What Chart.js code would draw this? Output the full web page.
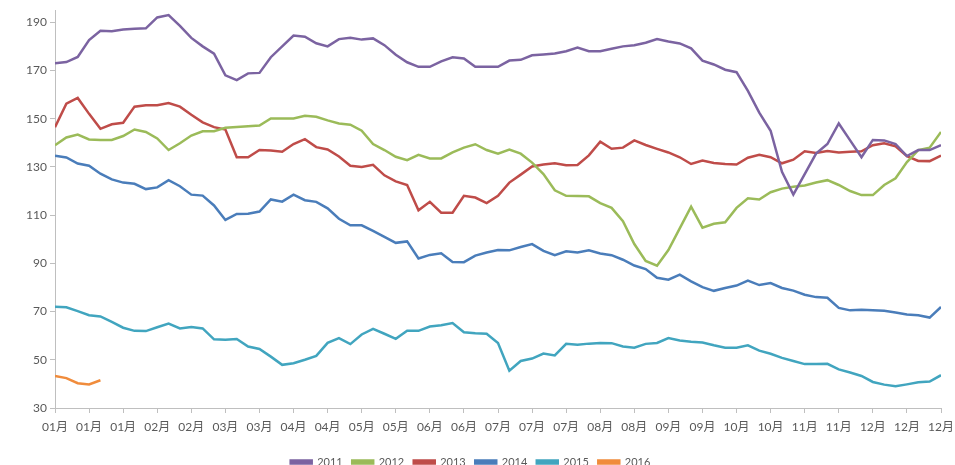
<!DOCTYPE html>
<html>
<head>
<meta charset="utf-8">
<script src="https://cdn.jsdelivr.net/npm/chart.js@4/dist/chart.umd.min.js"></script>
<style>
  body { margin: 0; background: #fff; overflow: hidden; }
  #wrap { width: 955px; height: 465px; }
</style>
</head>
<body>
<div id="wrap"><canvas id="prices"></canvas></div>
<script>
// x-axis labels, one every 3 points
const tickLabels = ['01月', '01月', '01月', '02月', '02月', '03月', '03月', '04月', '04月', '05月', '05月', '06月', '06月',
    '07月', '07月', '07月', '08月', '08月', '09月', '09月', '10月', '10月', '11月', '11月', '12月', '12月', '12月'];
const yTicks = [30, 50, 70, 90, 110, 130, 150, 170, 190];
const years = ['2011', '2012', '2013', '2014', '2015', '2016'];
const lineColors = ['#7B63A1', '#9BBB59', '#BF4C49', '#4A7DBA', '#41A5BF', '#F08C3C'];

const s2011 = [173, 173.5, 175.6, 182.6, 186.5, 186.3, 187, 187.3, 187.5, 192, 193, 188.5, 183.5, 180, 177, 168, 166, 168.8, 169, 175.5,
    180, 184.5, 184, 181.3, 180, 183, 183.6, 182.8, 183.3, 180.5, 176.5, 173.4, 171.5, 171.5, 173.8, 175.5, 175, 171.5, 171.5, 171.5,
    174.1, 174.4, 176.3, 176.6, 177, 178, 179.5, 178, 178, 179, 180, 180.5, 181.5, 183, 182, 181.2, 179.2, 174.1, 172.5, 170.3,
    169.3, 161.5, 152.5, 145, 128, 118.5, 127, 135.5, 139.5, 148, 141, 134, 141.2, 141, 139.5, 134.5, 137, 137, 139];
const s2012 = [139, 142.2, 143.4, 141.4, 141.2, 141.2, 142.8, 145.5, 144.5, 141.8, 137, 139.8, 143, 144.8, 144.8, 146.2, 146.6, 146.9, 147.2, 150.1,
    150.1, 150.1, 151.2, 150.8, 149.3, 148, 147.5, 145, 139.5, 137, 134.2, 132.8, 135, 133.5, 133.5, 136, 138, 139.4, 137, 135.5,
    137.2, 135.5, 131.8, 127, 120.3, 118, 117.9, 117.8, 115, 113, 107.5, 98, 91, 89, 95.5, 104.5, 113.5, 104.8, 106.4, 107,
    113, 117, 116.5, 119.5, 121, 121.8, 122.3, 123.5, 124.5, 122.5, 120, 118.3, 118.3, 122.5, 125.3, 132, 137, 138, 144.5];
const s2013 = [146.5, 156.2, 158.6, 152, 145.8, 147.7, 148.3, 155, 155.6, 155.6, 156.5, 155, 151.6, 148.5, 146.5, 145.5, 134, 134, 137, 136.8,
    136.3, 139.5, 141.5, 138.2, 137.2, 134.3, 130.5, 130, 130.9, 126.5, 124, 122.5, 112, 115.5, 111, 111, 118, 117.3, 115, 118,
    123.5, 126.8, 130.2, 131, 131.5, 130.7, 130.8, 134.8, 140.5, 137.5, 138, 141, 139.1, 137.5, 136, 134, 131.2, 132.6, 131.6, 131.2,
    131, 133.8, 135, 134, 131.5, 133, 136.5, 135.8, 136.6, 136, 136.3, 136.5, 139, 139.8, 138.5, 134.5, 132.5, 132.4, 134.7];
const s2014 = [134.6, 133.9, 131.4, 130.5, 127.2, 124.8, 123.5, 123, 120.8, 121.5, 124.5, 122, 118.5, 118.1, 114, 108, 110.5, 110.6, 111.5, 116.5,
    115.6, 118.5, 116.2, 115.5, 112.8, 108.5, 105.8, 105.8, 103.5, 101, 98.5, 99.1, 92, 93.5, 94.2, 90.6, 90.5, 93.2, 94.5, 95.5,
    95.4, 96.8, 98, 95.2, 93.4, 95, 94.5, 95.4, 94.1, 93.4, 91.5, 89.1, 87.6, 84, 83.2, 85.3, 82.5, 80.1, 78.6, 79.8,
    80.8, 82.8, 81, 81.8, 79.8, 78.7, 77, 76, 75.7, 71.5, 70.5, 70.8, 70.5, 70.3, 69.6, 68.8, 68.5, 67.5, 71.9];
const s2015 = [72, 71.8, 70.2, 68.5, 68, 65.7, 63.3, 62, 61.9, 63.5, 65, 63, 63.6, 63, 58.5, 58.3, 58.6, 55.5, 54.5, 51.3,
    47.9, 48.6, 50, 51.6, 57, 59, 56.5, 60.5, 62.8, 60.8, 58.7, 62, 62, 63.8, 64.3, 65.2, 61.4, 61, 60.8, 57,
    45.5, 49.5, 50.5, 52.6, 51.8, 56.6, 56.2, 56.7, 57, 56.9, 55.5, 55, 56.6, 57, 59, 58, 57.5, 57.2, 56, 55,
    55, 56, 53.8, 52.5, 50.8, 49.5, 48.2, 48.2, 48.3, 46, 44.7, 43.3, 40.8, 39.7, 39, 39.8, 40.7, 41, 43.6];
const s2016 = [43.3, 42.4, 40.3, 39.8, 41.5];

const seriesData = [s2011, s2012, s2013, s2014, s2015, s2016];

const ctx = document.getElementById('prices').getContext('2d');
const fontFamily = 'Lato, "Noto Sans CJK SC", sans-serif';

const priceChart = new Chart(ctx, {
    type: 'line',
    data: {
        datasets: years.map((y, k) => ({
            label: y,
            data: seriesData[k].map((v, i) => ({ x: i, y: v })),
            borderColor: lineColors[k],
            backgroundColor: lineColors[k],
            borderWidth: 2.5,
            pointRadius: 0,
            tension: 0,
            fill: false
        }))
    },
    options: {
        responsive: true,
        maintainAspectRatio: false,
        animation: false,
        layout: {
            padding: { left: 0, right: 14, top: 6, bottom: -12.5 }
        },
        scales: {
            x: {
                type: 'linear',
                min: 0,
                max: 78,
                grid: {
                    drawOnChartArea: false,
                    color: '#BFBFBF',
                    tickLength: 5
                },
                border: { color: '#BFBFBF' },
                ticks: {
                    stepSize: 3,
                    autoSkip: false,
                    maxRotation: 0,
                    padding: 7,
                    color: '#595959',
                    font: { family: fontFamily, size: 12 },
                    callback: v => tickLabels[v / 3]
                },
                afterFit: scale => {
                    scale.height = 39;
                    scale.paddingLeft = 0;
                    scale.paddingRight = 0;
                }
            },
            y: {
                min: 30,
                max: 195,
                grid: {
                    drawOnChartArea: false,
                    color: '#BFBFBF',
                    tickLength: 5
                },
                border: { color: '#BFBFBF' },
                ticks: {
                    padding: 3,
                    color: '#595959',
                    font: { family: fontFamily, size: 12 }
                },
                afterBuildTicks: scale => {
                    scale.ticks = yTicks.map(v => ({ value: v }));
                },
                afterFit: scale => { scale.width = 55; }
            }
        },
        plugins: {
            legend: {
                display: true,
                position: 'bottom',
                labels: {
                    boxWidth: 21,
                    boxHeight: 3,
                    padding: 9.5,
                    color: '#595959',
                    font: { family: fontFamily, size: 11 }
                }
            },
            tooltip: { enabled: false }
        }
    }
});
</script>
</body>
</html>
